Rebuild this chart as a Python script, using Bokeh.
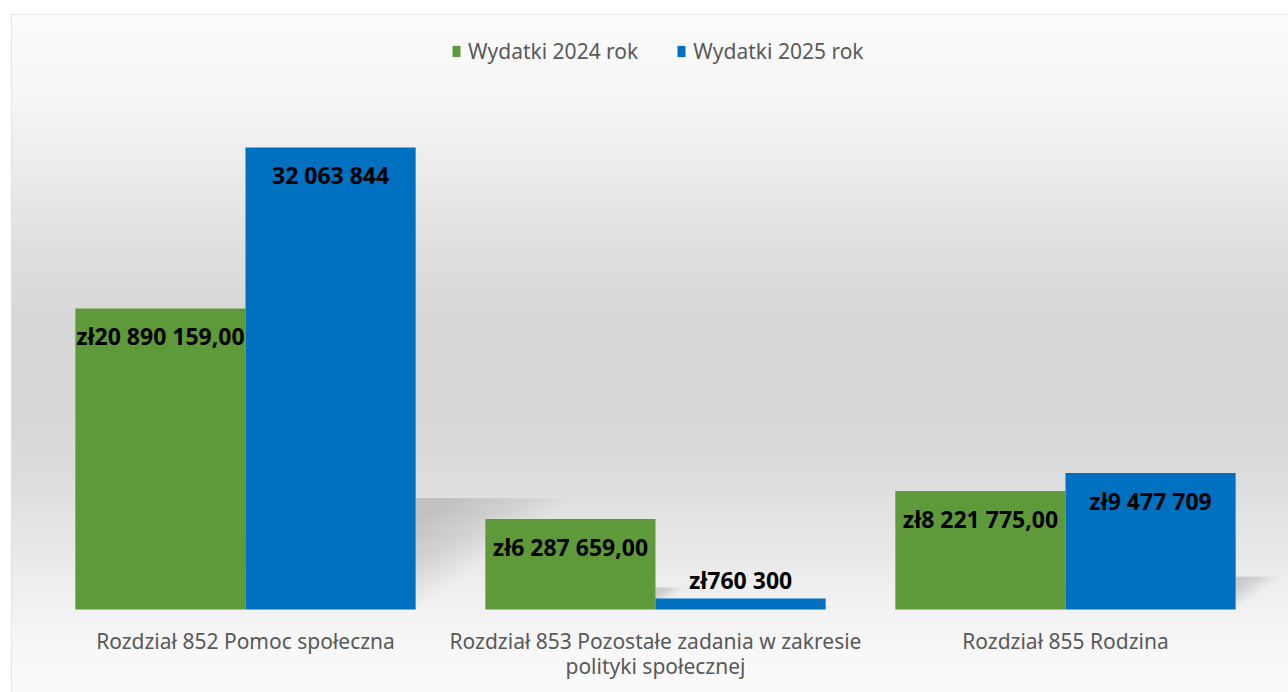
import numpy as np
from bokeh.plotting import figure
from bokeh.models import ColumnDataSource, Range1d, Legend, LegendItem
from bokeh.core.properties import value
from bokeh.embed import file_html
from bokeh.resources import INLINE

# ---------------- data ----------------
categories = [
    "Rozdział 852 Pomoc społeczna",
    "Rozdział 853 Pozostałe zadania w zakresie\npolityki społecznej",
    "Rozdział 855 Rodzina",
]
series_names = ["Wydatki 2024 rok", "Wydatki 2025 rok"]
wydatki_2024 = [20890159.00, 6287659.00, 8221775.00]
wydatki_2025 = [32063844, 760300, 9477709]
labels_2024 = ["zł20 890 159,00", "zł6 287 659,00", "zł8 221 775,00"]
labels_2025 = ["32 063 844", "zł760 300", "zł9 477 709"]

# ---------------- styling / layout ----------------
GREEN = "#5e9a3a"
BLUE = "#0070c0"
FONT = "Noto Sans"
W, H = 1288, 692
ML, MT = 11, 14
FW, FH = W - ML, H - MT          # frame size in px
CAT_PX = 410.0                    # px per category slot
X0_PX = 29.0                      # frame px where first slot begins
BASE_PX = 595.0                   # frame px (from top) of the zero line
PX_PER_Y = 14.409e-6              # px per zł
Y_TOP = BASE_PX / PX_PER_Y
Y_BOT = -(FH - BASE_PX) / PX_PER_Y
BAR_W = 0.415

p = figure(width=W, height=H, output_backend="svg", toolbar_location=None,
           x_range=Range1d(-X0_PX / CAT_PX, (FW - X0_PX) / CAT_PX),
           y_range=Range1d(Y_BOT, Y_TOP),
           min_border_left=ML, min_border_top=MT, min_border_right=0, min_border_bottom=0)
p.axis.visible = False
p.grid.visible = False
p.outline_line_color = "#dedede"
p.border_fill_color = "white"
p.background_fill_color = "white"

# background vertical gradient (style only)
gy = np.array([0, 76, 156, 236, 306, 386, 456, 526, 586, 636, 678], dtype=float)  # px from frame top
gv = np.array([252, 247, 236, 223, 216, 215, 220, 231, 241, 248, 251], dtype=float)
rows = np.arange(FH)[::-1] + 0.5
g = np.interp(rows, gy, gv).astype(np.uint32)
img = np.empty((FH, 1), dtype=np.uint32)
img[:, 0] = (255 << 24) | (g << 16) | (g << 8) | g
p.image_rgba(image=[img], x=p.x_range.start, y=Y_BOT,
             dw=p.x_range.end - p.x_range.start, dh=Y_TOP - Y_BOT)

idx = np.arange(len(categories))
x_2024 = idx + 0.5 - BAR_W / 2
x_2025 = idx + 0.5 + BAR_W / 2

# soft perspective shadows behind bars
sx, sy = [], []
for xs_c, vals in ((x_2024, wydatki_2024), (x_2025, wydatki_2025)):
    for xc, v in zip(xs_c, vals):
        xr = xc + BAR_W / 2
        hs = 0.24 * v
        ws = 0.33 * v * PX_PER_Y / CAT_PX
        for s in np.linspace(1.0, 0.25, 14):
            sx.append([xr, xr + s * ws, xr])
            sy.append([hs, hs, hs - s * hs])
p.patches(xs=sx, ys=sy, fill_color="#6f6f6f", fill_alpha=0.024, line_color=None)

src24 = ColumnDataSource(dict(x=x_2024, top=wydatki_2024, label=labels_2024))
src25 = ColumnDataSource(dict(x=x_2025, top=wydatki_2025, label=labels_2025))
r24 = p.vbar(x="x", top="top", bottom=0, width=BAR_W, source=src24,
             fill_color=GREEN, line_color=None)
r25 = p.vbar(x="x", top="top", bottom=0, width=BAR_W, source=src25,
             fill_color=BLUE, line_color=None)

# value labels: inside end, or above when the bar is too short
for src, vals in ((src24, wydatki_2024), (src25, wydatki_2025)):
    src.data["yoff"] = [28 if v * PX_PER_Y > 45 else -19 for v in vals]
    p.text(x="x", y="top", text="label", y_offset="yoff", source=src,
           text_align="center", text_baseline="middle",
           text_font=value(FONT), text_font_style="bold",
           text_font_size="23px", text_color="black")

# category labels
p.text(x=idx + 0.5, y=[0] * len(idx), text=categories, y_offset=17,
       text_align="center", text_baseline="top", text_font=value(FONT),
       text_font_size="21px", text_color="#595959", text_line_height=0.92)

legend = Legend(items=[LegendItem(label=series_names[0], renderers=[r24]),
                       LegendItem(label=series_names[1], renderers=[r25])],
                orientation="horizontal", location=(440, 627),
                label_text_font=FONT, label_text_font_size="21px",
                label_text_color="#595959", glyph_width=10, glyph_height=14,
                label_standoff=7, spacing=38, padding=0, margin=0,
                border_line_color=None, background_fill_alpha=0)
p.add_layout(legend)

open("out.html", "w").write(file_html(p, INLINE))
